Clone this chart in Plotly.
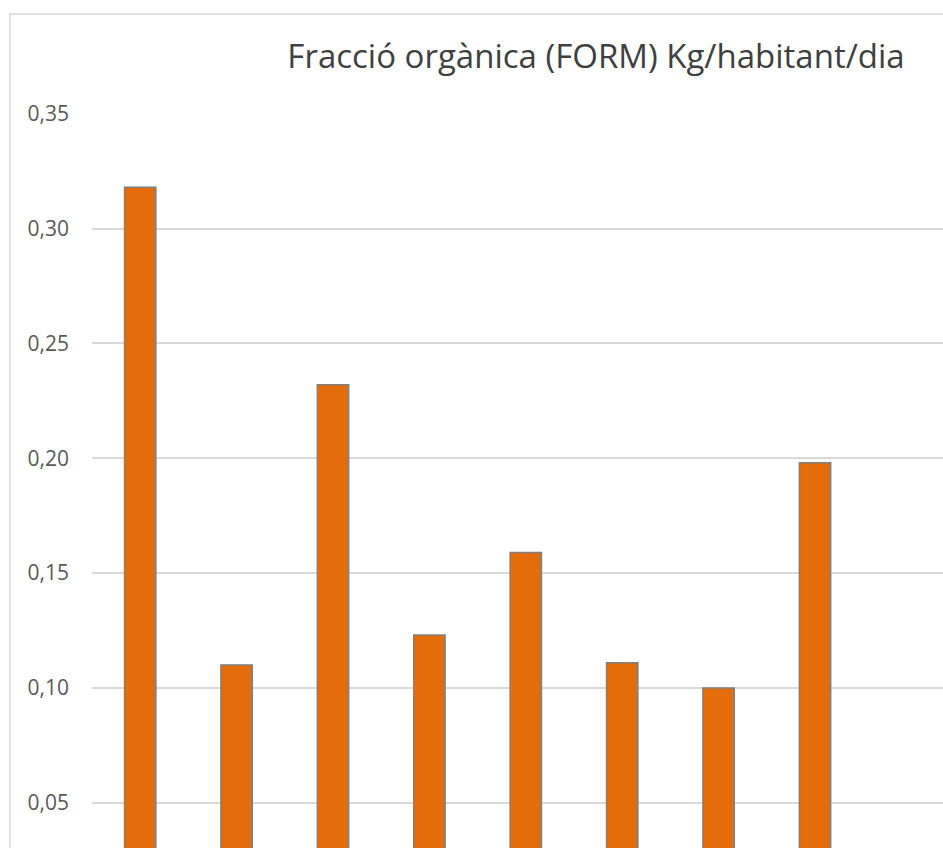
import plotly.graph_objects as go

# Data (x-axis labels are cropped out of the reference; placeholders used)
categories = ["C1", "C2", "C3", "C4", "C5", "C6", "C7", "C8"]
values = [0.318, 0.110, 0.232, 0.123, 0.159, 0.111, 0.100, 0.198]
tick_values = [0.05, 0.10, 0.15, 0.20, 0.25, 0.30, 0.35]
tick_labels = ["0,05", "0,10", "0,15", "0,20", "0,25", "0,30", "0,35"]
title_text = "Fracció orgànica (FORM) Kg/habitant/dia"

W, H = 943, 848
L, T = 92, 113
plot_w = W - L
plot_h = H - T

fig = go.Figure()
fig.add_trace(go.Bar(
    x=categories,
    y=values,
    width=0.325,
    marker=dict(color="#E46C0A", line=dict(color="#7F7F7F", width=1.5)),
))

fig.update_layout(
    width=W, height=H,
    margin=dict(l=L, r=0, t=T, b=0, pad=0),
    paper_bgcolor="white",
    plot_bgcolor="white",
    showlegend=False,
    font=dict(family="Open Sans", color="#595959"),
    title=dict(
        text=title_text,
        font=dict(family="Open Sans", size=33, color="#404040"),
        x=596 / W, xref="container", xanchor="center",
        y=1 - 56 / H, yref="container", yanchor="middle",
    ),
)

fig.update_xaxes(
    range=[-0.5, -0.5 + plot_w / 96.4],
    showticklabels=False, showgrid=False, zeroline=False, showline=False,
    ticks="",
)
fig.update_yaxes(
    range=[0.0303, 0.3503],
    tickvals=tick_values, ticktext=tick_labels,
    tickfont=dict(family="Open Sans", size=21, color="#595959"),
    showgrid=True, gridcolor="#D9D9D9", gridwidth=1.5,
    zeroline=False, showline=False, ticks="",
    ticklabelstandoff=22,
)

# Outer chart border (cropped on right and bottom in the reference)
fig.add_shape(
    type="rect", xref="paper", yref="paper",
    x0=(10 - L) / plot_w, x1=1.2,
    y0=-0.2, y1=(H - 14) / plot_h,
    line=dict(color="#D9D9D9", width=1.5), fillcolor="rgba(0,0,0,0)",
    layer="above",
)

fig.write_html(
    "out.html",
    config={"displayModeBar": False},
    post_script="document.body.style.margin='0';document.body.style.overflow='hidden';",
)
